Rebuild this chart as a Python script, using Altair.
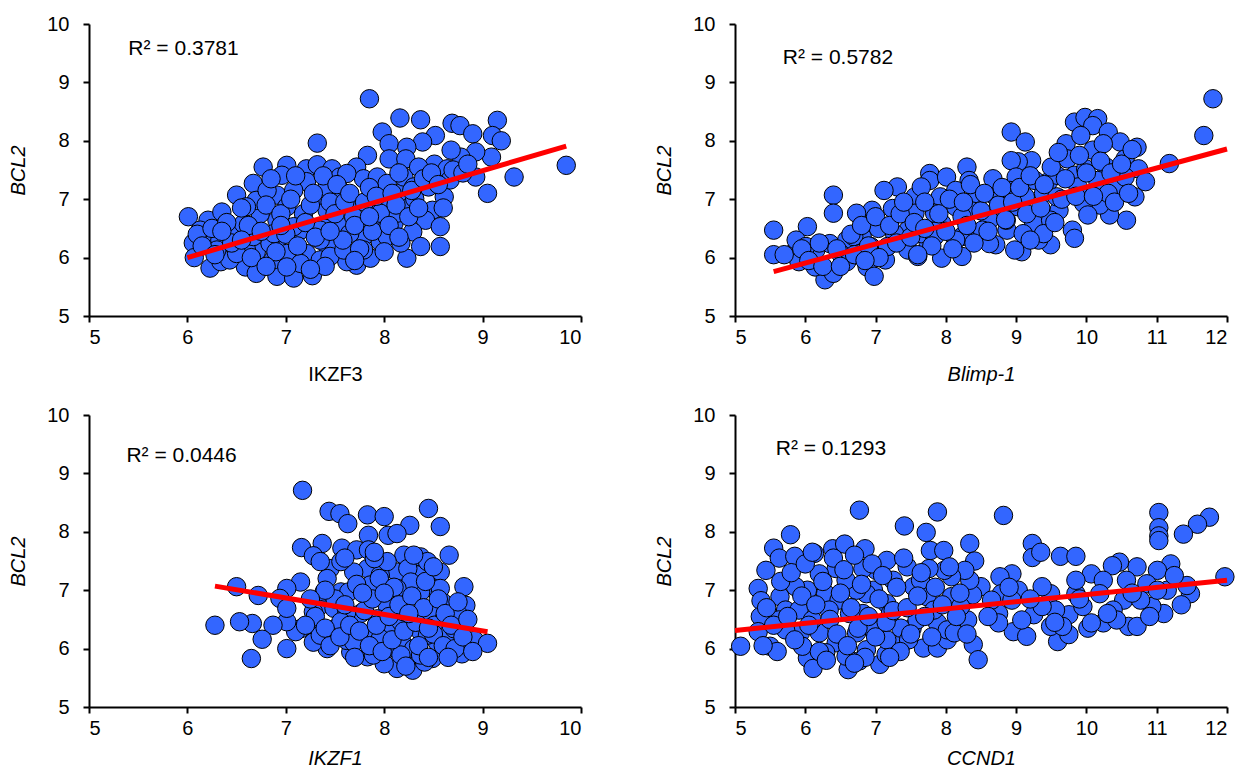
import altair as alt
import pandas as pd

FONT = "Liberation Sans"

# ---------------- Panel 1: IKZF3 vs BCL2 ----------------
ikzf3_x = [7.85, 8.16, 8.37, 8.69, 8.77, 9.15, 8.90, 8.52, 7.98, 7.32, 9.10, 9.19, 9.85, 9.32, 9.05, 8.93, 9.09, 8.93,
           8.78, 8.68, 8.39, 8.05, 8.23, 8.05, 8.22, 7.83, 8.51, 8.64, 8.42, 8.61, 8.49, 8.42, 8.57, 8.57, 8.29, 8.23,
           8.37, 6.01, 6.06, 6.07, 6.21, 6.35, 6.50, 6.21, 6.23, 6.34, 6.59, 6.70, 6.91, 7.08, 7.27, 6.77, 7.01, 6.96,
           6.67, 7.21, 7.32, 7.47, 7.55, 7.72, 7.79, 7.72, 7.62, 7.86, 7.96, 7.42, 7.49, 7.79, 7.15, 6.91, 6.53, 6.43,
           6.70, 6.91, 7.32, 6.91, 7.21, 7.55, 7.93, 7.99, 8.20, 8.31, 8.14, 7.67, 7.45, 7.35, 7.01, 6.74, 6.57, 7.21,
           7.01, 6.84, 6.60, 6.43, 7.15, 7.35, 7.55, 7.65, 7.96, 8.10, 8.03, 8.17, 7.86, 7.69, 7.42, 7.18, 6.88, 7.08,
           6.70, 6.60, 6.81, 7.08, 7.42, 7.62, 7.93, 8.03, 8.20, 8.35, 8.45, 8.67, 8.30, 8.13, 7.96, 7.35, 6.67, 6.33,
           6.13, 6.30, 6.50, 6.87, 7.01, 7.45, 7.79, 7.59,
           6.10, 6.15, 6.25, 6.28, 6.40, 6.45, 6.55, 6.62, 6.65, 6.75, 6.80, 6.85, 6.90, 6.95, 7.00, 7.05, 7.10, 7.12,
           7.20, 7.25, 7.28, 7.30, 7.38, 7.40, 7.45, 7.50, 7.52, 7.58, 7.60, 7.65, 7.70, 7.75, 7.80, 7.85, 7.88, 7.92,
           8.00, 8.05, 8.08, 8.12, 8.15, 8.25, 8.28, 8.35, 8.40, 8.48, 8.55, 8.60, 8.70, 8.80, 8.85, 8.15, 7.70, 7.25,
           6.80, 6.55, 6.35, 6.95, 7.45, 7.85]
ikzf3_bcl2 = [8.72, 8.39, 8.36, 8.30, 8.26, 8.35, 8.12, 8.09, 8.15, 7.96, 8.09, 8.00, 7.58, 7.38, 7.10, 7.38, 7.72, 7.81,
              7.72, 7.84, 7.98, 7.95, 7.89, 7.69, 7.69, 7.75, 7.60, 7.52, 7.38, 7.04, 6.81, 6.64, 6.53, 6.19, 6.44, 5.99,
              6.19, 6.70, 6.25, 6.00, 6.64, 6.78, 7.07, 6.33, 5.82, 5.93, 5.84, 5.73, 5.68, 5.65, 5.69, 7.55, 7.58, 7.41,
              7.27, 7.52, 7.59, 7.52, 7.38, 7.55, 7.35, 5.87, 5.93, 5.99, 6.27, 6.21, 6.24, 6.36, 6.47, 6.64, 6.47, 6.44,
              6.10, 6.30, 6.98, 7.07, 7.30, 7.15, 6.89, 6.92, 6.98, 7.01, 7.10, 6.87, 6.64, 6.47, 6.87, 6.75, 6.58, 6.07,
              6.07, 6.24, 6.13, 5.96, 5.90, 5.96, 6.53, 6.41, 6.53, 6.59, 6.36, 6.25, 6.64, 6.70, 6.81, 6.75, 6.41, 6.53,
              6.98, 6.87, 7.15, 7.15, 7.21, 7.44, 7.38, 7.27, 7.38, 7.55, 7.21, 7.33, 7.21, 6.76, 6.76, 6.30, 6.36, 6.30,
              6.47, 6.13, 6.07, 5.96, 5.84, 6.02, 6.13, 6.13,
              6.40, 6.20, 6.50, 6.05, 6.60, 6.25, 6.85, 6.55, 6.00, 6.45, 6.90, 7.35, 6.10, 6.75, 6.40, 7.00, 7.40, 6.20,
              6.60, 6.90, 7.10, 6.35, 7.40, 5.85, 6.95, 6.75, 7.25, 6.30, 6.95, 7.10, 6.55, 6.15, 6.95, 7.20, 6.45, 7.05,
              6.10, 6.55, 7.10, 6.90, 7.45, 6.70, 7.15, 6.85, 7.35, 7.45, 7.25, 6.85, 7.50, 7.45, 7.60, 6.35, 5.95, 5.80,
              5.85, 6.30, 6.45, 6.55, 6.45, 6.70]
ikzf3_trend_x = [6.00, 9.85]
ikzf3_trend_y = [6.00, 7.91]

# ---------------- Panel 2: Blimp-1 vs BCL2 ----------------
blimp1_x = [11.80, 11.67, 11.18, 8.93, 9.13, 9.83, 9.98, 10.16, 10.09, 10.31, 10.48, 10.72, 9.71, 9.92, 10.09, 10.24,
            10.55, 10.74, 10.84, 10.69, 10.57, 10.33, 10.19, 9.73, 9.83, 9.99, 10.28, 10.43, 9.96, 10.02, 9.80, 9.83,
            9.49, 9.46, 9.61, 9.29, 9.32, 9.08, 8.98, 8.71, 8.87, 9.22, 9.03, 8.93, 9.00, 9.27, 9.25, 9.03, 9.13, 9.39,
            9.58, 8.67, 8.30, 8.33, 7.77, 7.77, 8.01, 7.92, 7.31, 7.12, 7.56, 7.24, 6.95, 6.73, 6.40, 6.40, 6.03, 5.55,
            5.55, 5.82, 5.91, 5.87, 6.15, 6.28, 6.14, 6.40, 6.59, 6.35, 6.59, 6.81, 7.04, 6.88, 6.98, 7.14, 7.46, 7.60,
            7.75, 7.94, 8.23, 8.38, 8.23, 7.94, 7.84, 8.43, 8.62, 8.62, 8.86, 8.71, 7.46, 7.65, 7.27, 6.93, 6.69, 7.56,
            8.14, 8.23, 8.43, 7.65, 8.14, 8.91, 10.16, 10.55, 10.31, 9.88, 9.58, 9.49, 9.39, 9.10, 8.52, 8.14, 7.84,
            7.17, 6.78, 6.50, 6.01,
            5.70, 5.95, 6.05, 6.20, 6.25, 6.45, 6.50, 6.65, 6.70, 6.80, 6.90, 7.00, 7.05, 7.20, 7.30, 7.35, 7.40, 7.50,
            7.55, 7.70, 7.70, 7.80, 7.90, 8.00, 8.05, 8.10, 8.25, 8.30, 8.35, 8.50, 8.55, 8.60, 8.75, 8.80, 8.85, 8.95,
            9.05, 9.15, 9.20, 9.35, 9.40, 9.50, 9.55, 9.65, 9.70, 9.85, 9.90, 10.00, 10.10, 10.20, 10.35, 10.40, 10.50,
            10.60, 10.65, 9.20, 8.40, 7.60, 6.85, 9.60]
blimp1_bcl2 = [8.72, 8.09, 7.61, 8.15, 7.98, 8.32, 8.40, 8.38, 8.26, 8.15, 7.98, 7.89, 7.95, 8.09, 7.84, 7.95,
               7.69, 7.52, 7.30, 7.04, 6.64, 6.73, 6.90, 7.69, 7.41, 7.52, 7.55, 7.21, 6.93, 6.73, 6.47, 6.33,
               6.22, 7.30, 6.81, 6.53, 6.30, 6.10, 6.13, 6.22, 6.47, 7.66, 7.64, 7.66, 7.38, 7.32, 6.59, 6.87, 7.04, 7.10,
               7.41, 7.35, 7.55, 7.32, 7.44, 7.32, 7.38, 7.04, 7.21, 7.15, 7.04, 6.84, 6.81, 6.76, 7.07, 6.76, 6.53, 6.47,
               6.05, 6.07, 5.93, 6.30, 6.13, 5.62, 5.84, 5.73, 5.93, 6.24, 6.30, 6.36, 6.50, 5.84, 5.68, 5.96, 6.13, 6.02,
               6.24, 5.99, 6.02, 6.44, 6.36, 6.59, 6.76, 6.84, 6.64, 6.24, 6.64, 7.04, 6.47, 6.41, 6.41, 6.19, 6.36, 6.76,
               6.87, 6.70, 7.10, 7.21, 7.15, 7.15, 7.32, 7.38, 7.10, 7.21, 7.04, 6.64, 6.41, 6.41, 6.47, 6.30, 6.36,
               6.19, 6.07, 6.07, 6.19,
               6.05, 6.15, 5.95, 6.25, 5.85, 6.15, 5.85, 6.40, 6.05, 6.55, 6.20, 6.70, 6.00, 6.55, 6.25, 6.75, 6.95, 6.35,
               6.60, 6.50, 6.95, 6.20, 6.75, 6.45, 7.00, 6.15, 6.95, 6.55, 7.25, 6.80, 7.10, 6.45, 6.90, 7.20, 6.65, 6.95,
               7.20, 6.75, 7.40, 6.85, 7.25, 7.55, 6.60, 7.00, 7.35, 7.05, 7.75, 7.45, 7.05, 7.65, 7.45, 6.95, 7.60,
               7.10, 7.85, 6.30, 6.25, 6.05, 5.95, 7.80]
blimp1_trend_x = [5.55, 12.00]
blimp1_trend_y = [5.76, 7.86]

# ---------------- Panel 3: IKZF1 vs BCL2 ----------------
ikzf1_x = [7.17, 7.44, 7.55, 7.83, 8.00, 7.63, 8.45, 8.57, 8.26, 8.04, 8.13, 7.84, 7.16, 7.37, 7.28, 7.57, 7.72, 7.84,
           8.66, 8.37, 8.20, 7.45, 7.83, 8.13, 8.34, 8.57, 8.47, 8.81, 8.83, 8.76, 8.59, 8.92, 9.05, 8.66, 8.79, 8.49,
           8.29, 8.13, 8.23, 8.00, 7.83, 7.66, 7.42, 7.28, 7.15, 7.01, 7.15, 7.10, 7.01, 7.01, 6.87, 6.94, 7.01, 6.76,
           6.65, 6.66, 6.53, 6.72, 6.50, 6.28, 7.28, 7.50, 7.62, 7.86, 8.03, 8.18, 8.37, 8.54, 7.56, 7.64, 7.83, 8.03,
           8.20, 8.47, 8.61, 7.76, 7.93, 7.42, 7.69, 7.96, 8.03, 8.24, 8.44, 8.37, 8.17, 8.30, 8.44, 8.03, 7.89, 7.69,
           7.35, 7.28, 7.49, 7.62, 8.20, 8.51, 8.64, 8.71, 7.35, 7.56, 7.90, 8.27, 8.57, 8.13, 7.86, 7.39, 7.35, 7.56,
           7.96, 8.17, 8.41, 8.37,
           7.30, 7.40, 7.45, 7.50, 7.55, 7.60, 7.65, 7.70, 7.72, 7.75, 7.80, 7.85, 7.88, 7.92, 7.95, 7.98, 8.05, 8.08,
           8.10, 8.15, 8.20, 8.22, 8.28, 8.32, 8.35, 8.40, 8.42, 8.45, 8.50, 8.55, 8.60, 8.62, 8.68, 8.72, 8.75, 8.80,
           8.85, 8.50, 8.30, 7.90, 7.60, 7.40, 7.25, 7.20, 8.00, 8.25, 8.45, 8.65, 8.90, 7.78]
ikzf1_bcl2 = [8.71, 8.35, 8.31, 8.29, 8.26, 8.14, 8.40, 8.09, 8.11, 7.94, 7.97, 7.94, 7.73, 7.80, 7.59, 7.72, 7.69, 7.69,
              7.60, 7.57, 7.60, 7.37, 7.37, 7.31, 7.26, 7.31, 7.06, 7.06, 6.74, 6.57, 6.80, 6.14, 6.09, 5.97, 5.91, 5.83,
              5.63, 5.66, 5.83, 5.74, 5.86, 5.94, 6.00, 6.11, 7.14, 7.03, 6.34, 6.29, 6.46, 6.00, 6.40, 6.86, 6.69, 6.16,
              5.83, 6.43, 6.46, 6.91, 7.06, 6.40, 6.46, 6.34, 6.14, 6.20, 6.29, 6.11, 6.29, 6.11, 6.97, 6.97, 6.91, 6.74,
              6.86, 6.63, 6.51, 6.60, 6.51, 7.20, 7.31, 7.26, 7.49, 7.37, 7.49, 6.97, 6.46, 6.00, 6.23, 6.00, 5.89, 6.11,
              6.74, 6.63, 6.69, 6.63, 6.63, 6.40, 6.23, 6.34, 7.49, 7.49, 7.54, 7.14, 7.03, 7.03, 7.09, 6.97, 6.23, 6.46,
              6.17, 5.89, 5.77, 5.89,
              6.55, 6.35, 6.05, 6.85, 6.20, 6.75, 6.40, 5.85, 7.10, 6.30, 6.65, 6.05, 6.85, 6.40, 7.20, 5.95, 6.55, 6.15,
              7.05, 6.75, 6.30, 5.70, 6.90, 6.45, 6.05, 6.70, 7.15, 5.85, 6.25, 6.85, 6.05, 6.60, 6.40, 6.00, 6.80, 6.20,
              6.50, 7.40, 7.60, 7.65, 7.55, 7.00, 6.85, 6.40, 6.95, 6.60, 6.35, 5.85, 5.95, 6.95]
ikzf1_trend_x = [6.28, 9.05]
ikzf1_trend_y = [7.07, 6.29]

# ---------------- Panel 4: CCND1 vs BCL2 ----------------
ccnd1_x = [6.77, 7.88, 8.82, 11.03, 11.75, 11.58, 11.38, 11.03, 11.03, 11.03, 11.97, 7.41, 7.72, 5.79, 5.55, 5.63, 5.85,
           6.13, 6.39, 6.56, 6.85, 7.78, 7.97, 8.34, 9.23, 9.23, 9.35, 9.63, 9.85, 8.41, 5.44, 5.33, 5.37, 5.36, 5.33,
           5.08, 5.50, 5.60, 6.03, 6.11, 6.61, 6.77, 7.06, 7.15, 7.39, 7.68, 7.88, 8.02, 8.39, 8.46, 8.96, 9.15, 9.59,
           9.75, 10.02, 10.24, 10.60, 10.72, 11.10, 10.93, 11.48, 11.43, 11.20, 11.01, 10.72, 10.47, 10.37, 10.07,
           10.24, 10.57, 10.86, 11.15, 10.53, 10.19, 9.85, 9.49, 9.37, 9.75, 9.56, 9.49, 9.25, 9.08, 8.94, 9.03, 8.77,
           8.79, 8.75, 8.75, 8.50, 8.38, 8.34, 8.27, 8.31, 8.08, 8.08, 7.98, 7.76, 7.45, 7.54, 7.73, 7.88, 8.02, 7.52,
           7.36, 7.47, 7.01, 6.82, 7.16, 6.97, 6.87, 6.73, 6.44, 6.20, 6.03, 5.86, 5.64, 5.72, 5.91, 6.29, 6.48, 6.63,
           6.82, 7.16, 7.21, 6.97, 6.73, 6.44, 6.20, 5.93, 5.72, 5.62, 5.96, 6.29, 6.58, 6.87, 7.16, 7.59, 7.83, 8.21,
           8.12, 7.64, 7.25, 6.58, 6.34, 6.10, 8.65, 8.94, 9.37, 9.95, 10.38, 10.77, 11.01, 10.07, 10.43, 9.66, 9.85,
           5.45, 5.55, 5.65, 5.75, 5.80, 5.85, 5.95, 6.00, 6.05, 6.15, 6.20, 6.25, 6.35, 6.40, 6.45, 6.50, 6.55, 6.60,
           6.65, 6.70, 6.75, 6.80, 6.85, 6.90, 6.95, 7.00, 7.05, 7.10, 7.15, 7.25, 7.30, 7.35, 7.40, 7.45, 7.50, 7.60,
           7.65, 7.70, 7.80, 7.85, 7.95, 8.05, 8.15, 8.20, 8.30, 6.30, 6.70, 7.20, 5.40, 6.10, 9.20, 9.55, 9.90, 10.30,
           10.65, 10.90, 11.25, 11.35, 8.60, 8.90]
ccnd1_bcl2 = [8.37, 8.34, 8.28, 8.33, 8.25, 8.13, 7.96, 8.07, 7.93, 7.85, 7.23, 8.10, 7.99, 7.95, 7.72, 7.55, 7.58,
              7.63, 7.71, 7.79, 7.71, 7.68, 7.68, 7.80, 7.80, 7.56, 7.65, 7.58, 7.58, 7.50, 7.34, 7.03, 6.82, 6.55, 6.29,
              6.04, 6.04, 5.95, 5.84, 5.66, 5.64, 5.79, 5.73, 5.90, 6.10, 6.01, 6.01, 6.15, 6.07, 5.81, 6.29, 6.21, 6.12,
              6.24, 6.35, 6.44, 6.38, 6.38, 6.60, 6.72, 6.94, 7.08, 7.45, 7.34, 7.40, 7.48, 7.42, 7.28,
              7.17, 7.17, 7.11, 7.00, 6.83, 6.94, 6.94, 6.94, 7.06, 6.58, 6.66, 6.38, 6.58, 6.49, 7.28, 7.00, 7.23,
              6.94, 6.60, 6.44, 7.06, 6.92, 7.17, 7.34, 6.49, 6.89, 7.23, 7.34, 7.37, 7.40, 7.06, 6.89, 6.44, 6.32, 6.35,
              6.35, 6.15, 7.34, 7.37, 7.51, 7.00, 6.94, 7.00, 7.37, 7.28, 7.00, 7.06, 6.89, 6.66, 6.66, 6.94, 6.83, 6.60,
              6.60, 6.77, 6.60, 6.32, 6.27, 6.10, 6.27, 6.27, 6.32, 6.49, 6.04, 5.93, 5.87, 5.98, 6.15, 6.49, 6.66, 6.72,
              6.27, 7.17, 7.17, 7.17, 6.66, 6.49, 6.83, 6.83, 6.72, 6.72, 6.66, 6.83, 7.00, 6.44, 6.49, 6.38, 7.17,
              6.70, 6.40, 7.15, 6.55, 7.30, 6.15, 6.90, 7.45, 6.40, 6.75, 5.95, 7.15, 6.50, 7.55, 6.25, 6.95, 7.35, 6.05,
              6.70, 7.60, 6.35, 7.10, 5.85, 6.55, 7.45, 6.20, 6.85, 7.25, 6.45, 6.65, 7.05, 5.95, 7.55, 6.70, 6.25, 6.90,
              7.30, 6.55, 6.20, 7.05, 6.75, 7.40, 6.55, 6.95, 6.25, 5.80, 5.75, 5.85, 6.05, 7.65, 6.85, 6.45, 6.85, 6.60,
              6.95, 6.55, 7.25, 6.75, 6.55, 7.05]
ccnd1_trend_x = [5.00, 12.00]
ccnd1_trend_y = [6.31, 7.17]

BLUE = "#3366FF"
RED = "#FF0000"
FS = 20


def panel(xs, ys, tx, ty, xtitle, italic, xmax, r2, r2x, r2y, w, h, xtp):
    df = pd.DataFrame({"x": xs, "y": ys})
    tdf = pd.DataFrame({"x": tx, "y": ty})
    xscale = alt.Scale(domain=[5, xmax], nice=False, zero=False)
    yscale = alt.Scale(domain=[5, 10], nice=False, zero=False)
    xaxis = alt.Axis(title=xtitle, values=list(range(5, xmax + 1)), format="d",
                     titleFontStyle="italic" if italic else "normal", labelPadding=5, titlePadding=xtp)
    yaxis = alt.Axis(title="BCL2", values=[5, 6, 7, 8, 9, 10], format="d", titleFontStyle="italic",
                     labelPadding=14, titlePadding=18)
    pts = alt.Chart(df).mark_point(shape="circle", filled=True, fill=BLUE, stroke="black", strokeWidth=1,
                                   opacity=1, fillOpacity=1, strokeOpacity=1, size=340).encode(
        x=alt.X("x:Q", scale=xscale, axis=xaxis),
        y=alt.Y("y:Q", scale=yscale, axis=yaxis),
    )
    line = alt.Chart(tdf).mark_line(color=RED, strokeWidth=5).encode(
        x=alt.X("x:Q", scale=xscale), y=alt.Y("y:Q", scale=yscale)
    )
    txt = alt.Chart(pd.DataFrame({"x": [r2x], "y": [r2y], "t": [r2]})).mark_text(
        align="left", baseline="middle", fontSize=21, font=FONT, color="black"
    ).encode(x=alt.X("x:Q", scale=xscale), y=alt.Y("y:Q", scale=yscale), text="t:N")
    return alt.layer(pts, line, txt).properties(width=w, height=h)


p1 = panel(ikzf3_x, ikzf3_bcl2, ikzf3_trend_x, ikzf3_trend_y, "IKZF3", False, 10, "R² = 0.3781", 5.40, 9.57, 492, 292, 17)
p2 = panel(blimp1_x, blimp1_bcl2, blimp1_trend_x, blimp1_trend_y, "Blimp-1", True, 12, "R² = 0.5782", 5.68, 9.42, 492, 292, 17)
p3 = panel(ikzf1_x, ikzf1_bcl2, ikzf1_trend_x, ikzf1_trend_y, "IKZF1", True, 10, "R² = 0.0446", 5.38, 9.29, 492, 292, 10)
p4 = panel(ccnd1_x, ccnd1_bcl2, ccnd1_trend_x, ccnd1_trend_y, "CCND1", True, 12, "R² = 0.1293", 5.58, 9.42, 492, 292, 10)

chart = alt.vconcat(
    alt.hconcat(p1, p2, spacing=72),
    alt.hconcat(p3, p4, spacing=72),
    spacing=21,
).properties(
    padding={"left": 0, "top": 6, "right": 0, "bottom": 0}, background="white"
).configure_view(stroke=None).configure_axis(
    grid=False, domainColor="black", domainWidth=2, tickColor="black", tickWidth=2, tickSize=6,
    labelFont=FONT, labelFontSize=FS, labelColor="black", titleFont=FONT, titleFontSize=FS,
    titleFontWeight="normal", titleColor="black"
)

chart.save("out.html", embed_options={"renderer": "svg", "actions": False})
